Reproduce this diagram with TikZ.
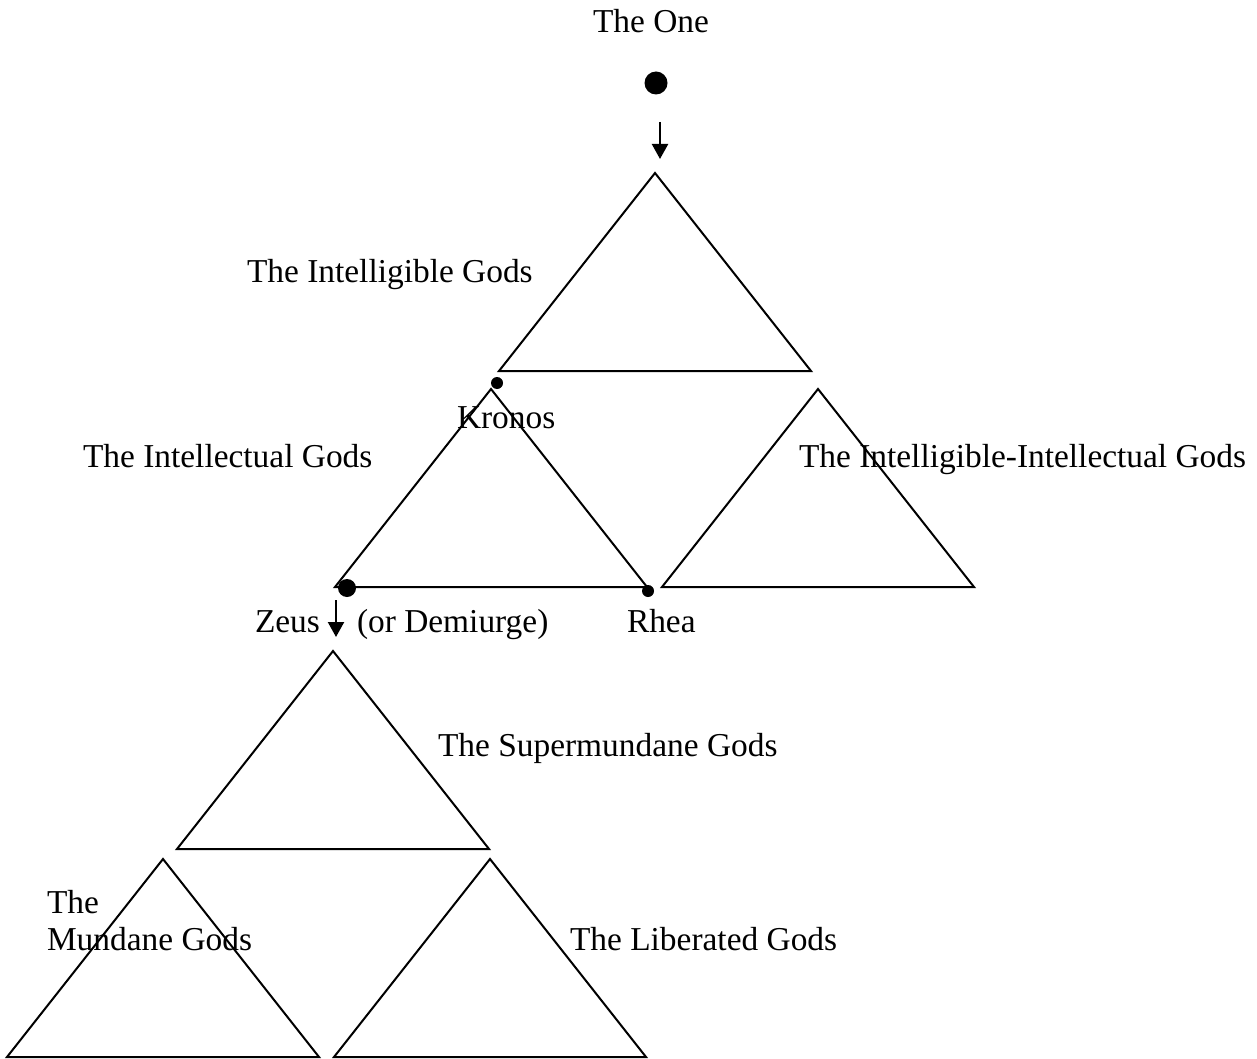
\documentclass[tikz,border=0pt]{standalone}
\usepackage{fontspec}
\setmainfont{Liberation Serif}
\usetikzlibrary{arrows.meta}
\begin{document}
\begin{tikzpicture}[x=1pt,y=-1pt,
  tri/.style={draw=black,line width=2pt,line join=miter},
  lbl/.style={anchor=base west,inner sep=0pt,outer sep=0pt,font=\fontsize{33.4}{40}\selectfont},
  bigdot/.style={circle,fill=black,inner sep=0pt,minimum size=#1},
  flow/.style={line width=2.2pt,-{Triangle[length=15pt,width=16pt]}}]
\useasboundingbox (0,0) rectangle (1257,1059);
% triangles
\draw[tri] (499,371) -- (655,173) -- (811,371) -- cycle;
\draw[tri] (335,587) -- (491,389) -- (647,587) -- cycle;
\draw[tri] (662,587) -- (818,389) -- (974,587) -- cycle;
\draw[tri] (177,849) -- (333,651) -- (489,849) -- cycle;
\draw[tri] (7,1057) -- (163,859) -- (319,1057) -- cycle;
\draw[tri] (334,1057) -- (490,859) -- (646,1057) -- cycle;
% dots
\node[bigdot=23pt] (one) at (656,83) {};
\node[bigdot=18pt] (zeus) at (347,588) {};
\node[bigdot=12pt] (kronos) at (497,383) {};
\node[bigdot=12pt] (rhea) at (648,591) {};
% arrows
\coordinate (a1s) at (660,122);
\coordinate (a1e) at (660,159);
\coordinate (a2s) at (336,600);
\coordinate (a2e) at (336,637);
\draw[flow] (a1s) -- (a1e);
\draw[flow] (a2s) -- (a2e);
% labels
\node[lbl] (tOne) at (593,33) {The One};
\node[lbl] (tIntelligible) at (247,282) {The Intelligible Gods};
\node[lbl] (tKronos) at (457,428) {Kronos};
\node[lbl] (tIntellectual) at (83,467) {The Intellectual Gods};
\node[lbl] (tII) at (799,467) {The Intelligible-Intellectual Gods};
\node[lbl] (tZeus) at (255,632) {Zeus};
\node[lbl] (tDemi) at (357,632) {(or Demiurge)};
\node[lbl] (tRhea) at (627,632) {Rhea};
\node[lbl] (tSuper) at (438,756) {The Supermundane Gods};
\node[lbl] (tThe) at (47,913) {The};
\node[lbl] (tMundane) at (47,950) {Mundane Gods};
\node[lbl] (tLib) at (570,950) {The Liberated Gods};
\end{tikzpicture}
\end{document}
